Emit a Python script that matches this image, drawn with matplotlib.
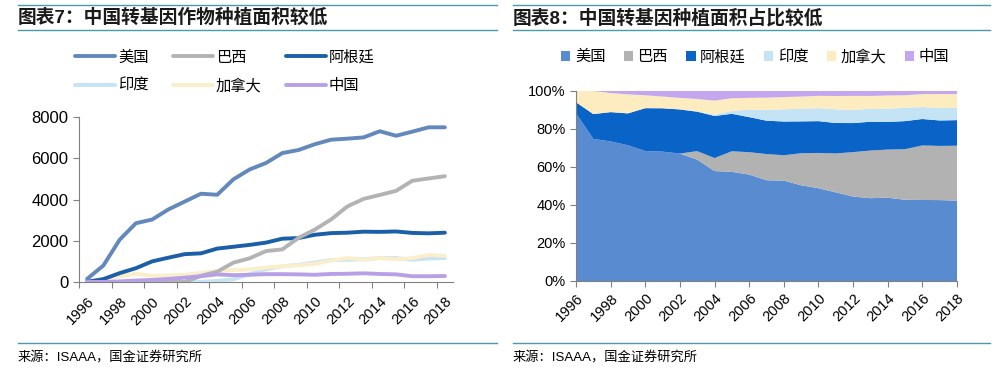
import numpy as np
import matplotlib
matplotlib.use("Agg")
import matplotlib.pyplot as plt
from matplotlib.lines import Line2D
from matplotlib.patches import Patch

plt.rcParams['font.family'] = ['Liberation Sans', 'Noto Sans CJK SC', 'DejaVu Sans']

years = list(range(1996, 2019))
names = ["美国", "巴西", "阿根廷", "印度", "加拿大", "中国"]

# 种植面积（万公顷）
usa = [150, 800, 2050, 2850, 3030, 3520, 3900, 4280, 4230, 4980, 5460, 5770,
       6250, 6400, 6680, 6900, 6950, 7010, 7310, 7090, 7290, 7500, 7500]
brazil = [0, 0, 0, 0, 0, 0, 0, 300, 500, 940, 1150, 1500,
          1580, 2140, 2540, 3030, 3660, 4030, 4220, 4420, 4910, 5020, 5130]
argentina = [10, 140, 430, 670, 1000, 1180, 1350, 1390, 1620, 1710, 1800, 1910,
             2100, 2130, 2290, 2370, 2390, 2440, 2430, 2450, 2380, 2360, 2390]
india = [0, 0, 0, 0, 0, 0, 5, 10, 50, 130, 380, 620,
         760, 840, 940, 1060, 1080, 1100, 1160, 1160, 1080, 1140, 1160]
canada = [10, 130, 280, 400, 300, 320, 350, 440, 540, 580, 610, 700,
          760, 820, 880, 1040, 1160, 1080, 1160, 1100, 1160, 1310, 1270]
china = [0, 0, 30, 70, 100, 150, 210, 280, 370, 330, 350, 380,
         380, 370, 350, 390, 400, 420, 390, 370, 280, 280, 290]

series = [usa, brazil, argentina, india, canada, china]
line_colors = ["#6388bb", "#b3b3b3", "#1b5fa6", "#c8e4f3", "#fbeecb", "#b8a0e6"]
area_colors = ["#588bd0", "#b2b2b2", "#0a64c8", "#c4e4f6", "#fdecc0", "#c3a6ee"]
teal = "#4a9aa8"

fig = plt.figure(figsize=(10, 3.74), dpi=100)

# frame lines and titles
for x0, x1 in [(0.018, 0.497), (0.513, 0.99)]:
    for yy in [1 - 5 / 374, 1 - 30 / 374, 1 - 343 / 374]:
        fig.add_artist(Line2D([x0, x1], [yy, yy], color=teal, lw=1.0))

fig.text(0.018, 1 - 18 / 374, "图表7：中国转基因作物种植面积较低", fontsize=13.5,
         fontweight="bold", va="center", ha="left", color="#1a1a1a")
fig.text(0.513, 1 - 18 / 374, "图表8：中国转基因种植面积占比较低", fontsize=13.5,
         fontweight="bold", va="center", ha="left", color="#1a1a1a")
fig.text(0.018, 1 - 358 / 374, "来源：ISAAA，国金证券研究所", fontsize=9.5,
         va="center", ha="left")
fig.text(0.513, 1 - 358 / 374, "来源：ISAAA，国金证券研究所", fontsize=9.5,
         va="center", ha="left")

# left: line chart
ax1 = fig.add_axes([0.079, 1 - 282 / 374, 0.374, 165 / 374])
x = np.arange(len(years))
handles = []
for vals, name, c in zip(series, names, line_colors):
    h, = ax1.plot(x, vals, color=c, lw=2.8, solid_capstyle="round", label=name)
    handles.append(h)
for i, h in enumerate(handles):
    h.set_zorder(2 + [5, 4, 3, 1, 2, 6][i])

ax1.set_xlim(-0.5, len(years) - 0.5)
ax1.set_ylim(0, 8000)
ax1.set_yticks([0, 2000, 4000, 6000, 8000])
ax1.set_xticks(np.arange(-0.5, len(years), 2), minor=False)
ax1.set_xticklabels([])
ax1.set_xticks(np.arange(0, len(years), 2), minor=True)
ax1.set_xticklabels([str(y) for y in years[::2]], minor=True, rotation=45,
                    ha="right", rotation_mode="anchor", fontsize=10.5)
ax1.tick_params(axis="x", which="minor", length=0, pad=9)
ax1.tick_params(axis="x", which="major", length=4, color="#808080")
ax1.tick_params(axis="y", length=4, color="#808080", labelsize=12)
for s in ["top", "right"]:
    ax1.spines[s].set_visible(False)
for s in ["left", "bottom"]:
    ax1.spines[s].set_color("#808080")
ax1.set_xlim(-0.5, len(years) - 0.5)

leg_handles = [handles[0], handles[3], handles[1], handles[4], handles[2], handles[5]]
fig.legend(leg_handles, [h.get_label() for h in leg_handles], ncol=3,
           loc="center", bbox_to_anchor=(0.225, 1 - 72 / 374), frameon=False,
           fontsize=11, handlelength=2.6, columnspacing=1.6, labelspacing=0.95,
           handletextpad=0.2)

# right: 100% stacked area
totals = np.sum(np.array(series, dtype=float), axis=0)
shares = [np.array(v) / totals for v in series]
ax2 = fig.add_axes([0.576, 1 - 281 / 374, 0.381, 190 / 374])
ax2.stackplot(years, shares, colors=area_colors, labels=names, lw=0)
ax2.set_xlim(1996, 2018)
ax2.set_ylim(0, 1)
ax2.set_yticks(np.arange(0, 1.01, 0.2))
ax2.set_yticklabels(["0%", "20%", "40%", "60%", "80%", "100%"])
ax2.set_xticks(years[::2])
ax2.set_xticklabels([str(y) for y in years[::2]], rotation=45, ha="right",
                    rotation_mode="anchor", fontsize=10.5)
ax2.tick_params(axis="x", length=4, color="#808080")
ax2.tick_params(axis="y", length=4, color="#808080", labelsize=10.5)
for s in ["top", "right"]:
    ax2.spines[s].set_visible(False)
for s in ["left", "bottom"]:
    ax2.spines[s].set_color("#808080")

patches = [Patch(facecolor=c, label=n) for c, n in zip(area_colors, names)]
fig.legend(handles=patches, ncol=6, loc="center",
           bbox_to_anchor=(0.755, 1 - 57 / 374), frameon=False, fontsize=11,
           handlelength=0.6, handleheight=0.6, handletextpad=0.3,
           columnspacing=1.2)

fig.savefig("out.png", dpi=100)
